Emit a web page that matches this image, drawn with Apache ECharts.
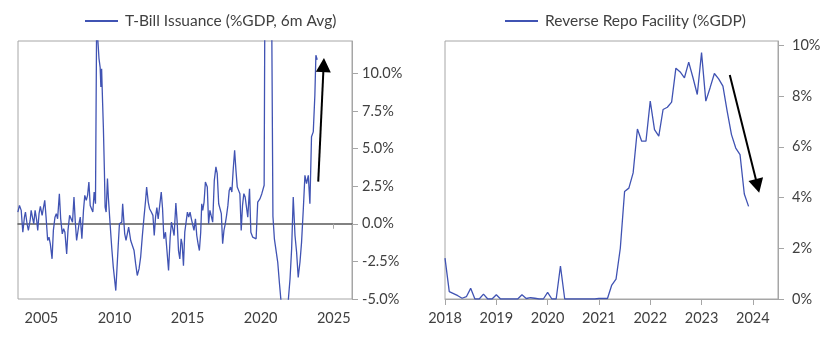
<!DOCTYPE html>
<html><head><meta charset="utf-8">
<script src="https://cdn.jsdelivr.net/npm/echarts@6/dist/echarts.min.js"></script>
<style>html,body{margin:0;padding:0;background:#fff}#c{width:840px;height:337px}</style>
</head><body><div id="c"></div>
<script>
// T-Bill issuance (%GDP, 6m avg): [decimal year, value]
const tbillPoints = [
[2003.39,0.78],[2003.50,1.22],[2003.62,0.89],[2003.73,-0.56],[2003.84,0.44],[2003.91,0.78],[2004.02,0],[2004.11,-0.44],
[2004.23,0.22],[2004.30,0.89],[2004.41,0.33],[2004.48,0],[2004.57,0.89],[2004.68,0.22],[2004.75,-0.44],[2004.84,0.67],
[2004.93,1.16],[2005.05,0.56],[2005.11,0.89],[2005.23,1.56],[2005.32,0.44],[2005.43,-1.11],[2005.52,-0.89],[2005.61,-1.33],
[2005.73,-2.33],[2005.82,-0.44],[2005.93,0.44],[2006.02,0.67],[2006.11,0.33],[2006.23,2.0],[2006.32,0.33],[2006.43,-0.67],
[2006.52,-0.33],[2006.61,-0.56],[2006.73,-2.0],[2006.82,-0.44],[2006.93,0.56],[2007.02,0.44],[2007.13,0.11],[2007.23,1.78],
[2007.32,0.11],[2007.41,-1.11],[2007.50,-1.0],[2007.59,0.11],[2007.66,0.44],[2007.77,-1.0],[2007.88,0.89],[2007.97,1.89],
[2008.07,1.56],[2008.16,1.89],[2008.25,2.78],[2008.34,1.22],[2008.43,1.11],[2008.52,0.78],[2008.61,2.11],[2008.70,1.33],
[2008.78,13.5],[2008.94,11.0],[2009.02,10.4],[2009.07,9.1],[2009.12,10.3],[2009.19,8.0],
[2009.24,6.44],[2009.31,3.56],[2009.36,1.11],[2009.43,0.78],[2009.52,3.0],[2009.58,1.78],[2009.70,0],[2009.81,-1.56],
[2009.92,-2.89],[2009.99,-3.0],[2010.09,-4.44],[2010.16,-4.44],[2010.25,-1.56],[2010.34,0],[2010.43,0],[2010.50,0.11],
[2010.56,1.33],[2010.63,1.22],[2010.70,-0.67],[2010.79,-1.11],[2010.88,-1.11],[2010.97,-0.22],
[2011.11,-1.11],[2011.22,-1.22],[2011.34,-1.78],[2011.45,-2.67],[2011.56,-3.44],[2011.68,-3.0],[2011.79,-2.22],[2011.90,-0.89],
[2012.02,0.44],[2012.13,1.56],[2012.20,2.44],[2012.31,1.44],[2012.40,1.0],[2012.52,0.78],[2012.63,0.56],[2012.72,-0.78],
[2012.81,0.44],[2012.90,1.07],[2012.99,0.33],[2013.08,0.44],[2013.20,2.11],[2013.29,1.0],[2013.38,-1.0],[2013.49,-0.56],
[2013.58,-0.67],[2013.70,-3.11],[2013.81,-0.89],[2013.90,0.11],[2013.99,0.22],[2014.08,-0.78],[2014.20,1.38],[2014.29,0.11],
[2014.38,-1.78],[2014.47,-2.33],[2014.56,-1.0],[2014.63,-1.33],[2014.72,-2.78],[2014.81,-0.56],[2014.90,0.11],[2014.99,0.78],
[2015.08,0.44],[2015.17,0.78],[2015.26,0.33],[2015.35,0.22],[2015.44,-0.44],[2015.54,0.33],[2015.63,-0.78],[2015.72,-1.33],
[2015.81,-1.78],[2015.90,-0.56],[2015.97,1.33],[2016.04,0.89],[2016.13,1.44],[2016.22,2.78],[2016.35,2.44],[2016.44,0],
[2016.53,0.89],[2016.63,0.78],[2016.72,0.11],[2016.83,2.89],[2016.94,3.78],[2017.03,3.33],[2017.13,1.33],[2017.22,1.22],
[2017.31,0.67],[2017.40,-1.33],[2017.49,-0.44],[2017.58,0],[2017.67,0.56],[2017.76,1.22],[2017.85,2.22],[2017.94,2.44],
[2018.03,2.11],[2018.12,3.56],[2018.22,4.89],[2018.31,3.56],[2018.40,2.44],[2018.49,2.22],[2018.58,2.0],[2018.67,-0.44],
[2018.76,1.22],[2018.85,2.0],[2018.94,1.78],[2019.03,1.11],[2019.12,0.44],
[2019.24,2.33],[2019.33,-0.56],[2019.46,-0.89],[2019.58,-0.78],[2019.69,-1.0],[2019.80,1.44],[2019.96,1.67],[2020.08,2.0],
[2020.24,2.56],[2020.33,25],[2020.50,30],[2020.66,26],[2020.75,15],[2020.84,0.5],
[2020.94,-1.0],[2021.05,-1.11],[2021.17,-2.56],[2021.28,-3.89],[2021.39,-5.1],[2021.50,-6.0],[2021.65,-6.5],[2021.80,-5.6],
[2021.89,-5.1],[2022.01,-3.67],[2022.12,-1.67],[2022.23,1.78],[2022.35,-0.78],[2022.46,-1.89],[2022.57,-3.56],[2022.69,-2.56],
[2022.80,-1.22],[2022.92,1.0],[2023.03,3.22],[2023.14,2.67],[2023.26,3.22],[2023.37,1.33],[2023.48,5.78],[2023.60,6.11],
[2023.71,8.56],[2023.78,11.2],[2023.87,10.9]
];

// Reverse Repo Facility (%GDP), monthly from Jan 2018
const rrpStartYear = 2018;
const rrpValues = [
1.61,0.29,0.21,0.13,0.03,0.09,0.42,0,0,0.19,0,0,
0.17,0,0,0,0,0,0.17,0.02,0.05,0.03,0,0,
0.26,0,0,1.3,0,0,0,0,0,0,0,0,
0.02,0.02,0.02,0.55,0.78,2.0,4.24,4.37,4.97,6.7,6.22,6.22,
7.8,6.68,6.42,7.47,7.56,7.76,9.1,8.95,8.72,9.34,8.72,8.06,
9.71,7.8,8.33,8.89,8.68,8.39,7.4,6.48,5.95,5.69,4.14,3.65
];

const leftYearTicks = [2005, 2010, 2015, 2020, 2025];
const leftZeroTicks = [2025];
const leftPctTicks = [-5, -2.5, 0, 2.5, 5, 7.5, 10];
const rightYearTicks = [2018, 2019, 2020, 2021, 2022, 2023, 2024];
const rightPctTicks = [0, 2, 4, 6, 8, 10];
const leftArrow = [[2023.94, 2.8], [2024.31, 10.55]];
const rightArrow = [[2023.55, 8.83], [2024.09, 4.46]];

const leftName = 'T-Bill Issuance (%GDP, 6m Avg)';
const rightName = 'Reverse Repo Facility (%GDP)';

const FONT = 'Lato';
const TXT = '#404040';
const AX = '#a6a6a6';
const LINE = '#4053b3';

const rrpPoints = rrpValues.map((v, i) => [rrpStartYear + i / 12, v]);

const chart = echarts.init(document.getElementById('c'), null, {renderer: 'canvas'});
const lab = (extra) => Object.assign({color: TXT, fontSize: 14.5, fontFamily: FONT}, extra);
const legendCommon = {itemWidth: 33, itemHeight: 2, itemGap: 5, icon: 'rect',
  textStyle: {fontSize: 15.5, color: TXT, fontFamily: FONT, padding: [0, 0, 0, 2]}};

chart.setOption({
  animation: false,
  textStyle: {fontFamily: FONT},
  legend: [
    Object.assign({data: [leftName], left: 80, top: 8}, legendCommon),
    Object.assign({data: [rightName], left: 500, top: 8}, legendCommon)
  ],
  grid: [
    {left: 18, right: 488, top: 41, bottom: 38, show: true, borderColor: AX, borderWidth: 1},
    {left: 445, right: 62, top: 41, bottom: 38, show: true, borderColor: AX, borderWidth: 1}
  ],
  xAxis: [
    {gridIndex: 0, type: 'value', min: 2003.4, max: 2026.25, position: 'bottom',
     axisLine: {show: false, onZero: false}, axisTick: {show: false}, splitLine: {show: false},
     axisLabel: lab({customValues: leftYearTicks, margin: 12, formatter: v => String(v)})},
    {gridIndex: 0, type: 'value', min: 2003.4, max: 2026.25, position: 'top',
     axisLine: {show: true, onZero: true, lineStyle: {color: '#595959', width: 1.5}},
     axisTick: {show: true, inside: true, length: 5, customValues: leftZeroTicks, lineStyle: {color: AX}},
     axisLabel: {show: false}, splitLine: {show: false}},
    {gridIndex: 1, type: 'value', min: 2018, max: 2024.49, position: 'bottom',
     axisLine: {show: true, onZero: false, lineStyle: {color: AX}},
     axisTick: {show: true, length: 6, customValues: rightYearTicks, lineStyle: {color: AX}},
     splitLine: {show: false},
     axisLabel: lab({customValues: rightYearTicks, margin: 12, formatter: v => String(v)})}
  ],
  yAxis: [
    {gridIndex: 0, type: 'value', min: -5, max: 12.15, position: 'right',
     axisLine: {show: true, onZero: false, lineStyle: {color: AX}},
     axisTick: {show: true, length: 6, customValues: leftPctTicks, lineStyle: {color: AX}},
     splitLine: {show: false},
     axisLabel: lab({customValues: leftPctTicks, margin: 10, formatter: v => v.toFixed(1) + '%'})},
    {gridIndex: 1, type: 'value', min: 0, max: 10.17, position: 'right',
     axisLine: {show: true, onZero: false, lineStyle: {color: AX}},
     axisTick: {show: true, length: 6, customValues: rightPctTicks, lineStyle: {color: AX}},
     splitLine: {show: false},
     axisLabel: lab({customValues: rightPctTicks, margin: 14, formatter: v => v + '%'})}
  ],
  series: [
    {name: leftName, type: 'line', xAxisIndex: 0, yAxisIndex: 0, data: tbillPoints,
     symbol: 'none', clip: true, lineStyle: {color: LINE, width: 1.3}, itemStyle: {color: LINE},
     markLine: {silent: true, symbol: ['none', 'triangle'], symbolSize: [15, 14],
       label: {show: false}, lineStyle: {color: '#000', width: 2, type: 'solid'},
       emphasis: {disabled: true},
       data: [[{coord: leftArrow[0]}, {coord: leftArrow[1]}]]}},
    {name: rightName, type: 'line', xAxisIndex: 2, yAxisIndex: 1, data: rrpPoints,
     symbol: 'none', clip: true, lineStyle: {color: LINE, width: 1.3}, itemStyle: {color: LINE},
     markLine: {silent: true, symbol: ['none', 'triangle'], symbolSize: [15, 14],
       label: {show: false}, lineStyle: {color: '#000', width: 2, type: 'solid'},
       emphasis: {disabled: true},
       data: [[{coord: rightArrow[0]}, {coord: rightArrow[1]}]]}}
  ]
});
</script></body></html>
